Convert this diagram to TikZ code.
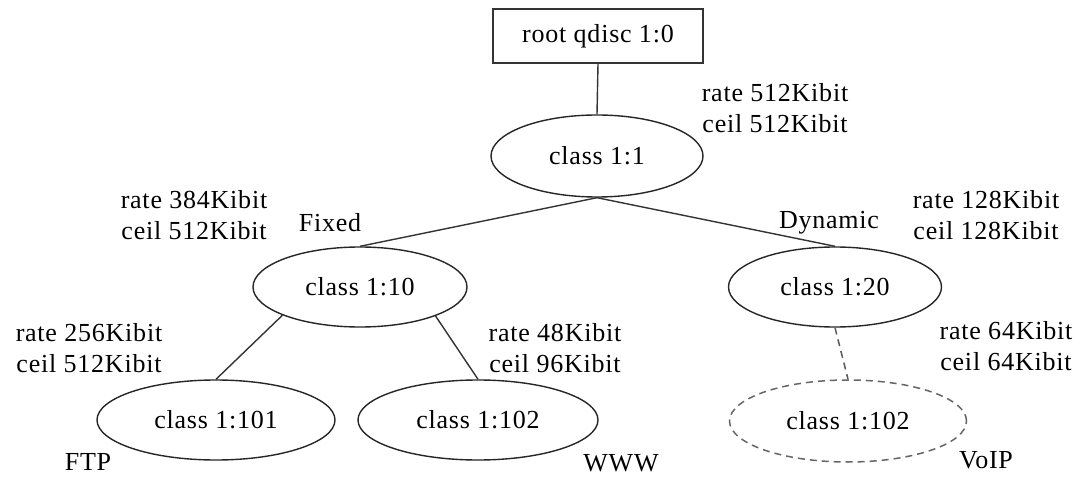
\documentclass[tikz,border=0pt]{standalone}
\usepackage{fontspec}
\setmainfont{Liberation Serif}[LetterSpace=3]
\usetikzlibrary{shapes.geometric}
\begin{document}
\begin{tikzpicture}[x=1pt,y=1pt,
  every node/.style={font=\fontsize{26}{31}\selectfont},
  boxnode/.style={draw=black!80,line width=1.8pt,minimum width=210pt,minimum height=54pt,inner sep=0pt},
  ell/.style={draw=black!85,ellipse,line width=1.4pt,inner sep=0pt},
  dashell/.style={draw=black!60,ellipse,line width=1.5pt,dash pattern=on 7pt off 5pt,inner sep=0pt},
  conn/.style={draw=black!80,line width=1.4pt},
  dconn/.style={draw=black!65,line width=1.5pt,dash pattern=on 7pt off 5pt},
  lbl/.style={inner sep=0pt,align=center}]
\useasboundingbox (0,0) rectangle (1084,477);
\fill[white] (0,0) rectangle (1084,477);
\node[boxnode] (root) at (598,441) {root qdisc 1:0};
\node[ell,minimum width=212pt,minimum height=82pt] (c1) at (597,321) {class 1:1};
\node[ell,minimum width=214pt,minimum height=80pt] (c10) at (360,190) {class 1:10};
\node[ell,minimum width=213pt,minimum height=80pt] (c20) at (835,190) {class 1:20};
\node[ell,minimum width=238pt,minimum height=80pt] (c101) at (216,57) {class 1:101};
\node[ell,minimum width=240pt,minimum height=80pt] (c102) at (478,57) {class 1:102};
\node[dashell,minimum width=237pt,minimum height=82pt] (c102v) at (848,56) {class 1:102};

\draw[conn] (root.south) -- (c1.north);
\draw[conn] (c1.south) -- (c10.north);
\draw[conn] (c1.south) -- (c20.north);
\draw[conn] (c10.200) -- (c101.north);
\draw[conn] (c10.339) -- (c102.north);
\draw[dconn] (c20.south) -- (c102v.north);

\node[lbl] (l1) at (775,369) {rate 512Kibit\\ceil 512Kibit};
\node[lbl] (l10) at (194,262) {rate 384Kibit\\ceil 512Kibit};
\node[lbl] (fixed) at (330,254) {Fixed};
\node[lbl] (dyn) at (829,254) {Dynamic};
\node[lbl] (l20) at (986,262) {rate 128Kibit\\ceil 128Kibit};
\node[lbl] (l101) at (89,129) {rate 256Kibit\\ceil 512Kibit};
\node[lbl] (l102) at (555,129) {rate 48Kibit\\ceil 96Kibit};
\node[lbl] (l102v) at (1006,131) {rate 64Kibit\\ceil 64Kibit};
\node[lbl] (ftp) at (88,15) {FTP};
\node[lbl] (www) at (621,14) {WWW};
\node[lbl] (voip) at (986,17) {VoIP};
\end{tikzpicture}
\end{document}
